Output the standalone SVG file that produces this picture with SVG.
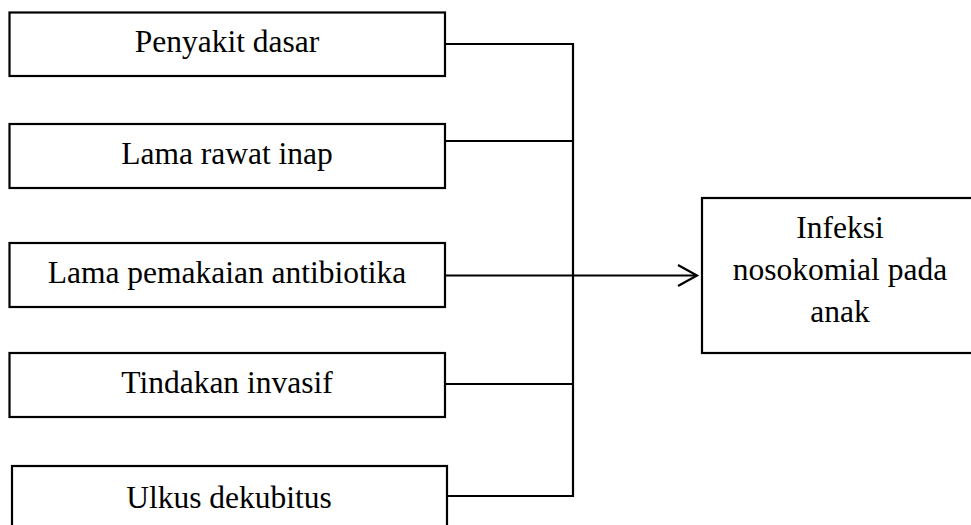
<svg xmlns="http://www.w3.org/2000/svg" width="971" height="525" viewBox="0 0 971 525">
<style>
.box{fill:#fff;stroke:#000;stroke-width:2.2}
.lbl{font-family:"Liberation Serif","Times New Roman",serif;font-size:31.5px;fill:#000;text-anchor:middle}
.con{fill:none;stroke:#000;stroke-width:2.2}
</style>
<rect width="971" height="525" fill="#fff"/>
<g id="connectors">
<polyline class="con" points="445,44 573,44 573,497"/>
<line class="con" x1="445" y1="141" x2="573" y2="141"/>
<line class="con" x1="445" y1="275.5" x2="696" y2="275.5"/>
<polyline class="con" points="678,265 697,275.5 678,286"/>
<line class="con" x1="445" y1="384" x2="573" y2="384"/>
<line class="con" x1="447" y1="496" x2="574" y2="496"/>
</g>
<g id="n1"><rect class="box" x="9.5" y="12.5" width="435.5" height="63.5"/><text class="lbl" x="227" y="52">Penyakit dasar</text></g>
<g id="n2"><rect class="box" x="9.5" y="124" width="435.5" height="64"/><text class="lbl" x="227" y="164">Lama rawat inap</text></g>
<g id="n3"><rect class="box" x="9.5" y="243" width="435.5" height="64"/><text class="lbl" x="227" y="283">Lama pemakaian antibiotika</text></g>
<g id="n4"><rect class="box" x="9.5" y="353" width="435.5" height="64"/><text class="lbl" x="227" y="393">Tindakan invasif</text></g>
<g id="n5"><rect class="box" x="12" y="466" width="435" height="70"/><text class="lbl" x="229" y="508">Ulkus dekubitus</text></g>
<g id="n6"><rect class="box" x="702" y="198" width="300" height="155"/><text class="lbl" x="840" y="238">Infeksi</text><text class="lbl" x="840" y="280">nosokomial pada</text><text class="lbl" x="840" y="322">anak</text></g>
</svg>
